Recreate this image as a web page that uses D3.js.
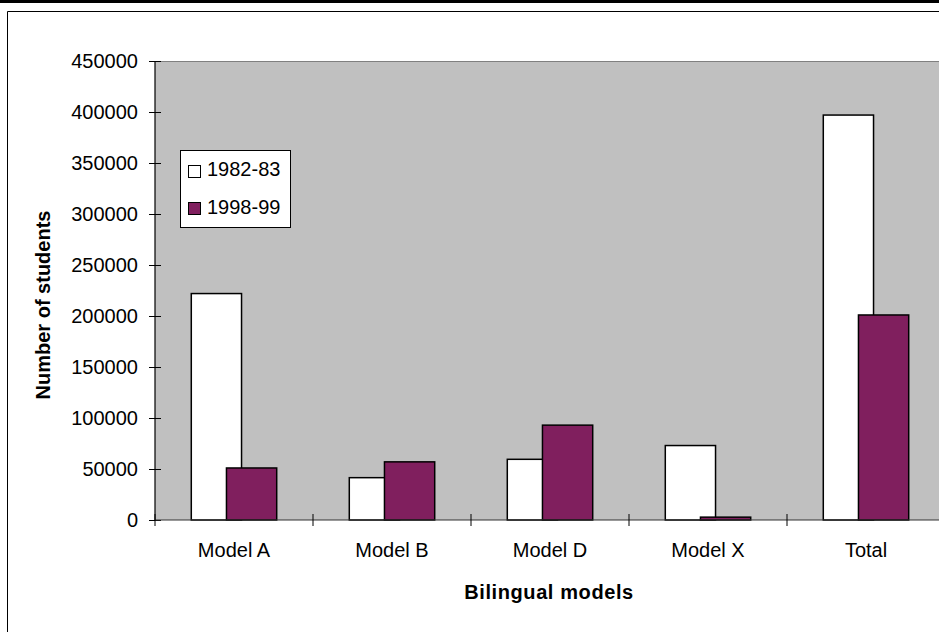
<!DOCTYPE html>
<html>
<head>
<meta charset="utf-8">
<script src="https://cdn.jsdelivr.net/npm/d3@7"></script>
<style>
  body { margin: 0; background: #fff; }
  text { font-family: "Liberation Sans", Arial, sans-serif; fill: #000; }
</style>
</head>
<body>
<div id="chart"></div>
<script>
// values
const categories = ["Model A", "Model B", "Model D", "Model X", "Total"];
const years = ["1982-83", "1998-99"];
const values8283 = [222000, 41500, 59500, 73000, 397000];
const values9899 = [51000, 57000, 93000, 2800, 201000];
const yTicks = [0, 50000, 100000, 150000, 200000, 250000, 300000, 350000, 400000, 450000];

const width = 939;
const height = 632;
const fills = ["#ffffff", "#801f5e"];

const svg = d3.select("#chart").append("svg")
  .attr("width", width)
  .attr("height", height);

// outer frame
svg.append("rect").attr("x", 0).attr("y", 0).attr("width", width).attr("height", 3).attr("fill", "#000");
svg.append("path")
  .attr("d", `M7.5,${height} V11.5 H${width}`)
  .attr("fill", "none").attr("stroke", "#000").attr("stroke-width", 1);

const plot = { left: 155, right: 945, top: 61, bottom: 520 };

const x = d3.scaleBand().domain(categories).range([plot.left, plot.right]).paddingInner(0).paddingOuter(0);
const y = d3.scaleLinear().domain([0, 450000]).range([plot.bottom, plot.top]);

// plot area
svg.append("rect")
  .attr("x", plot.left).attr("y", plot.top)
  .attr("width", plot.right - plot.left).attr("height", plot.bottom - plot.top)
  .attr("fill", "#c0c0c0");
svg.append("line")
  .attr("x1", plot.left).attr("x2", plot.right)
  .attr("y1", plot.top + 0.5).attr("y2", plot.top + 0.5)
  .attr("stroke", "#808080");

// bars, 1982-83 first so 1998-99 overlaps it
const bw = x.bandwidth() * 0.318;
const step = bw * 0.7;
const series = [values8283, values9899];
series.forEach((vals, si) => {
  svg.append("g")
    .selectAll("rect")
    .data(vals)
    .join("rect")
    .attr("x", (d, i) => x(categories[i]) + x.bandwidth() / 2 - (bw + step) / 2 + si * step)
    .attr("y", (d) => y(d))
    .attr("width", bw)
    .attr("height", (d) => y(0) - y(d))
    .attr("fill", fills[si])
    .attr("stroke", "#000")
    .attr("stroke-width", 1.5);
});

// y axis
const yAxis = svg.append("g")
  .attr("transform", `translate(${plot.left},0)`)
  .call(d3.axisLeft(y).tickValues(yTicks).tickSize(6).tickPadding(11).tickFormat(d3.format("d")));
yAxis.select(".domain").attr("stroke", "#000").attr("stroke-width", 1.2).attr("d", `M0,${plot.top}V${plot.bottom}`);
yAxis.selectAll(".tick line").attr("x1", -6).attr("x2", 6).attr("stroke", "#000");
yAxis.selectAll(".tick text").attr("font-size", 20).attr("font-family", "Liberation Sans, Arial, sans-serif");

// x axis
const xAxis = svg.append("g").attr("transform", `translate(0,${plot.bottom})`);
xAxis.append("line")
  .attr("x1", plot.left).attr("x2", plot.right)
  .attr("stroke", "#333").attr("stroke-width", 1.2);
xAxis.selectAll("line.tick")
  .data(categories.concat([null]))
  .join("line")
  .attr("class", "tick")
  .attr("x1", (d, i) => plot.left + i * x.step())
  .attr("x2", (d, i) => plot.left + i * x.step())
  .attr("y1", -6).attr("y2", 6)
  .attr("stroke", "#000");
xAxis.selectAll("text")
  .data(categories)
  .join("text")
  .attr("x", (d) => x(d) + x.bandwidth() / 2)
  .attr("y", 37)
  .attr("text-anchor", "middle")
  .attr("font-size", 20)
  .text((d) => d);

// axis titles
svg.append("text")
  .attr("x", 549).attr("y", 599)
  .attr("text-anchor", "middle")
  .attr("font-size", 20).attr("font-weight", "bold")
  .attr("letter-spacing", 0.6)
  .text("Bilingual models");
svg.append("text")
  .attr("transform", "translate(50,305) rotate(-90)")
  .attr("text-anchor", "middle")
  .attr("font-size", 20).attr("font-weight", "bold")
  .text("Number of students");

// legend
const legend = svg.append("g");
legend.append("rect")
  .attr("x", 180.5).attr("y", 150.5).attr("width", 110).attr("height", 77)
  .attr("fill", "#fff").attr("stroke", "#000");
years.forEach((yr, i) => {
  legend.append("rect")
    .attr("x", 188.5).attr("y", 165.5 + i * 37).attr("width", 12).attr("height", 12)
    .attr("fill", fills[i]).attr("stroke", "#000");
  legend.append("text")
    .attr("x", 207).attr("y", 176 + i * 38)
    .attr("font-size", 20)
    .text(yr);
});
</script>
</body>
</html>
